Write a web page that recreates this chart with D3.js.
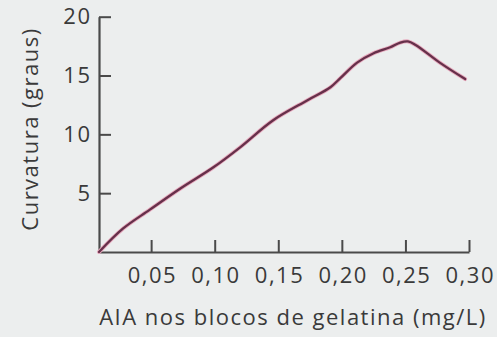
<!DOCTYPE html>
<html>
<head>
<meta charset="utf-8">
<script src="https://cdn.jsdelivr.net/npm/d3@7/dist/d3.min.js"></script>
<style>
  html, body { margin: 0; padding: 0; background: #eceeee; }
  svg { display: block; }
  text { font-family: "Open Sans", "Noto Sans", sans-serif; fill: #3a3a3a; }
</style>
</head>
<body>
<svg id="chart" width="497" height="337"></svg>
<script>
// Curvature of the coleoptile vs. AIA concentration in the gelatin blocks
const concentration = [0.009, 0.028, 0.049, 0.073, 0.099, 0.120, 0.146, 0.173, 0.191, 0.199, 0.212, 0.225, 0.238, 0.246, 0.252, 0.258, 0.277, 0.297];
const curvature     = [0.0,   2.0,   3.6,   5.4,   7.2,   8.9,   11.2,  12.9,  14.0,  14.8,  16.1,  16.9,  17.4,  17.8,  17.9,  17.6,  16.1,  14.7];

const xTicks = [0.05, 0.10, 0.15, 0.20, 0.25, 0.30];
const xTickLabels = ["0,05", "0,10", "0,15", "0,20", "0,25", "0,30"];
const yTicks = [5, 10, 15, 20];
const yTickLabels = ["5", "10", "15", "20"];

const xTitle = "AIA nos blocos de gelatina (mg/L)";
const yTitle = "Curvatura (graus)";

const svg = d3.select("#chart");
const plotLeft = 99, plotRight = 469, plotTop = 16.7, plotBottom = 252;

const x = d3.scaleLinear().domain([0.009, 0.30]).range([plotLeft, plotRight]);
const y = d3.scaleLinear().domain([0, 20]).range([plotBottom, plotTop]);

const axisColor = "#4a4a4a";
const fontSize = "22px";
const spacing = "1.5px";

// x axis: ticks point up into the plot
const gx = svg.append("g")
  .attr("transform", `translate(0,${plotBottom})`)
  .call(d3.axisBottom(x)
    .tickValues(xTicks)
    .tickFormat((d, i) => xTickLabels[i])
    .tickSizeInner(-12)
    .tickSizeOuter(0)
    .tickPadding(15));

// y axis: ticks point right into the plot
const gy = svg.append("g")
  .attr("transform", `translate(${plotLeft},0)`)
  .call(d3.axisLeft(y)
    .tickValues(yTicks)
    .tickFormat((d, i) => yTickLabels[i])
    .tickSizeInner(-12)
    .tickSizeOuter(0)
    .tickPadding(9));

[gx, gy].forEach(g => {
  g.select(".domain").attr("stroke", axisColor).attr("stroke-width", 2.2);
  g.selectAll(".tick line").attr("stroke", axisColor).attr("stroke-width", 2);
  g.selectAll(".tick text")
    .style("font-family", '"Open Sans", "Noto Sans", sans-serif')
    .style("font-size", fontSize)
    .style("letter-spacing", spacing)
    .attr("fill", "#3a3a3a");
});
// keep labels aligned despite the trailing letter spacing
gx.selectAll(".tick text").attr("dx", "0.75px");
gy.selectAll(".tick text").attr("dx", "1.5px");

// curve with a soft pink halo under a dark maroon stroke
const line = d3.line()
  .x((d, i) => x(concentration[i]))
  .y((d, i) => y(curvature[i]))
  .curve(d3.curveCatmullRom.alpha(0.5));

svg.append("path")
  .datum(curvature)
  .attr("d", line)
  .attr("fill", "none")
  .attr("stroke", "#e7a9bd")
  .attr("stroke-width", 4)
  .attr("stroke-linejoin", "round")
  .attr("stroke-linecap", "round");

svg.append("path")
  .datum(curvature)
  .attr("d", line)
  .attr("fill", "none")
  .attr("stroke", "#66304a")
  .attr("stroke-width", 2.3)
  .attr("stroke-linejoin", "round")
  .attr("stroke-linecap", "round");

// axis titles
svg.append("text")
  .attr("x", 293)
  .attr("y", 325)
  .attr("text-anchor", "middle")
  .style("font-size", fontSize)
  .style("letter-spacing", spacing)
  .text(xTitle);

svg.append("text")
  .attr("transform", "translate(38,129) rotate(-90)")
  .attr("text-anchor", "middle")
  .style("font-size", fontSize)
  .style("letter-spacing", spacing)
  .text(yTitle);
</script>
</body>
</html>
